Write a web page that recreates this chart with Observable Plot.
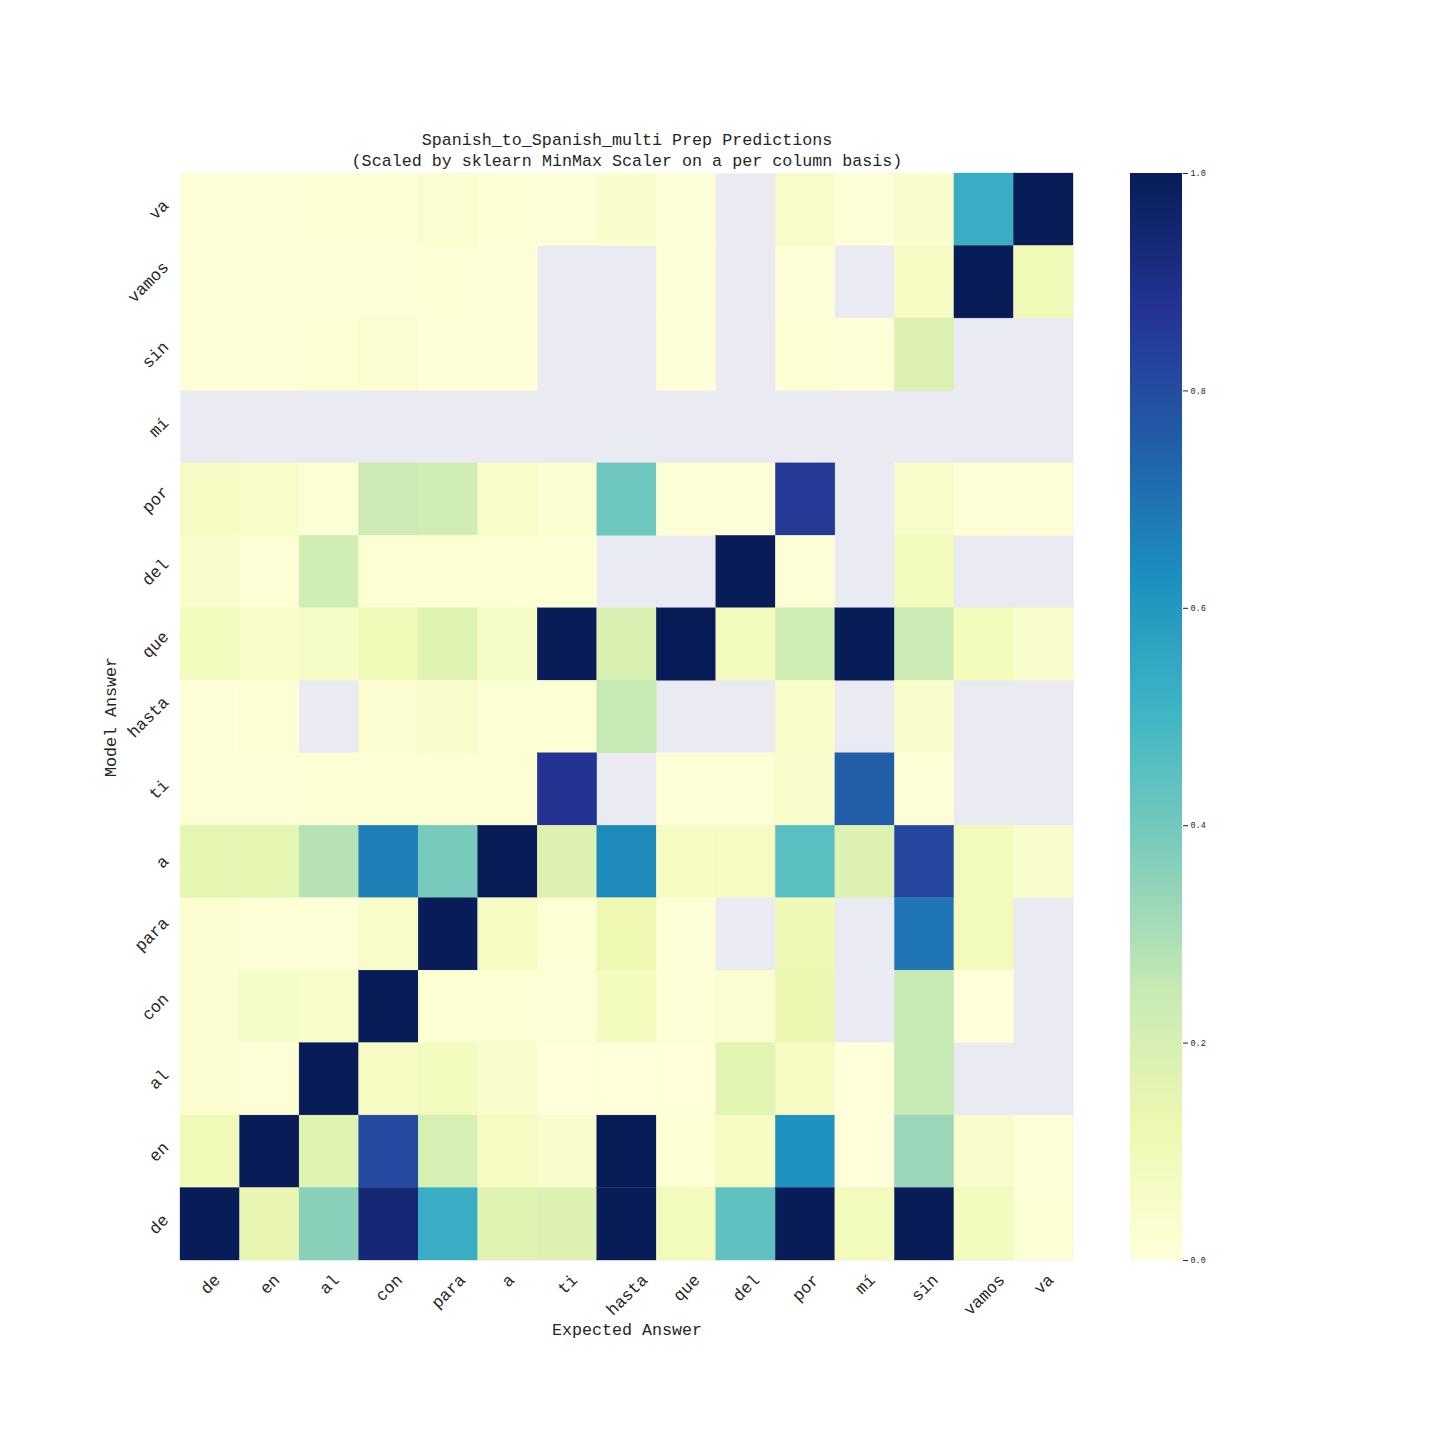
<!DOCTYPE html>
<html><head><meta charset="utf-8">
<script src="https://cdn.jsdelivr.net/npm/d3@7"></script>
<script src="https://cdn.jsdelivr.net/npm/@observablehq/plot@0.6"></script>
<style>
body{margin:0;background:#fff;}
#wrap{position:relative;width:1440px;height:1440px;}
#wrap svg{position:absolute;top:0;}
</style></head><body><div id="wrap"></div>
<script>
// Categories
const expected = ["de","en","al","con","para","a","ti","hasta","que","del","por","mí","sin","vamos","va"];
const model = ["va","vamos","sin","mí","por","del","que","hasta","ti","a","para","con","al","en","de"];
const N = null;
// Values per model-answer row (columns follow `expected`)
const row_va    = [0.01,0.01,0.02,0.02,0.03,0.02,0.01,0.04,0.01,N,0.05,0.01,0.04,0.53,1];
const row_vamos = [0.01,0.01,0.01,0.01,0.02,0.01,N,N,0.01,N,0.01,N,0.07,1,0.10];
const row_sin   = [0.01,0.01,0.02,0.03,0.01,0.01,N,N,0.01,N,0.02,0.01,0.18,N,N];
const row_mi    = [N,N,N,N,N,N,N,N,N,N,N,N,N,N,N];
const row_por   = [0.07,0.05,0.02,0.23,0.22,0.05,0.03,0.41,0.01,0.01,0.86,N,0.05,0.01,0.01];
const row_del   = [0.04,0.01,0.22,0.02,0.02,0.02,0.02,N,N,1,0.01,N,0.09,N,N];
const row_que   = [0.08,0.05,0.06,0.10,0.17,0.06,1,0.19,1,0.08,0.22,1,0.23,0.09,0.04];
const row_hasta = [0.01,0.02,N,0.03,0.04,0.02,0.02,0.25,N,N,0.05,N,0.04,N,N];
const row_ti    = [0.01,0.01,0.02,0.02,0.02,0.02,0.88,N,0.01,0.01,0.04,0.75,0.01,N,N];
const row_a     = [0.15,0.15,0.28,0.67,0.39,1,0.18,0.64,0.07,0.07,0.45,0.18,0.82,0.09,0.04];
const row_para  = [0.03,0.01,0.01,0.05,1,0.07,0.02,0.12,0.01,N,0.11,N,0.69,0.09,N];
const row_con   = [0.03,0.06,0.05,1,0.02,0.02,0.01,0.08,0.01,0.03,0.13,N,0.25,0.0,N];
const row_al    = [0.03,0.01,1,0.07,0.08,0.04,0.0,0.0,0.0,0.16,0.07,0.0,0.25,N,N];
const row_en    = [0.10,1,0.17,0.81,0.20,0.07,0.04,1,0.02,0.07,0.62,0.0,0.33,0.04,0.01];
const row_de    = [1,0.14,0.36,0.94,0.53,0.17,0.18,1,0.09,0.44,1,0.09,1,0.08,0.02];
const rows = [row_va,row_vamos,row_sin,row_mi,row_por,row_del,row_que,row_hasta,row_ti,row_a,row_para,row_con,row_al,row_en,row_de];
const cbTicks = [0,0.2,0.4,0.6,0.8,1.0];
const titleLines = ["Spanish_to_Spanish_multi Prep Predictions","(Scaled by sklearn MinMax Scaler on a per column basis)"];

const cells = [];
model.forEach((m,i)=>expected.forEach((e,j)=>{ const v = rows[i][j]; if (v !== null) cells.push({model:m, expected:e, value:v}); }));

const ylgnbu = ["#ffffd9","#edf8b1","#c7e9b4","#7fcdbb","#41b6c4","#1d91c0","#225ea8","#253494","#081d58"];
const colorOpts = {type:"linear", domain: ylgnbu.map((_,i)=>i/8), range: ylgnbu, clamp:true};
const FONT = "Liberation Mono, DejaVu Sans Mono, monospace";
const TXT = "#262626";

const plot = Plot.plot({
  width:1440, height:1440,
  marginLeft:180, marginRight:367, marginTop:173, marginBottom:180,
  style:{fontFamily:FONT, background:"transparent", color:TXT},
  x:{domain:expected, padding:0, round:false, axis:null},
  y:{domain:model, padding:0, round:false, axis:null},
  color: colorOpts,
  marks:[
    Plot.frame({fill:"#eaeaf2", stroke:null}),
    Plot.cell(cells, {x:"expected", y:"model", fill:"value", stroke:"value", strokeWidth:0.3}),
    Plot.text(expected, {x:d=>d, frameAnchor:"bottom", rotate:-45, textAnchor:"middle", lineAnchor:"middle", fontSize:16.7, fill:TXT, ariaDescription:"xtick"}),
    Plot.text(model, {y:d=>d, frameAnchor:"left", rotate:-45, textAnchor:"middle", lineAnchor:"middle", fontSize:16.7, fill:TXT, ariaDescription:"ytick"}),
    Plot.text(["Expected Answer"], {frameAnchor:"bottom", dy:69, textAnchor:"middle", lineAnchor:"middle", fontSize:16.7, fill:TXT}),
    Plot.text(["Model Answer"], {frameAnchor:"left", dx:-70, rotate:-90, textAnchor:"middle", lineAnchor:"middle", fontSize:16.7, fill:TXT}),
    Plot.text([titleLines[0]], {frameAnchor:"top", dy:-34, textAnchor:"middle", lineAnchor:"middle", fontSize:16.7, fill:TXT}),
    Plot.text([titleLines[1]], {frameAnchor:"top", dy:-13, textAnchor:"middle", lineAnchor:"middle", fontSize:16.7, fill:TXT})
  ]
});
const wrap = document.getElementById("wrap");
wrap.appendChild(plot);
plot.style.left = "0px";

// position rotated tick labels like matplotlib (bbox aligned)
const h = 13;
function shiftLabels(sel, horizontal){
  sel.each(function(){
    const L = this.getComputedTextLength();
    const s = 10 + 0.354*(L+h);
    const t = this.getAttribute("transform") || "";
    const pre = horizontal ? `translate(${-s},0) ` : `translate(0,${s + 2}) `;
    this.setAttribute("transform", pre + t);
  });
}
let gx = d3.select(plot).select('g[aria-description="xtick"]');
let gy = d3.select(plot).select('g[aria-description="ytick"]');
if (gx.empty() || gy.empty()) {
  const groups = d3.select(plot).selectAll('g[aria-label="text"]').nodes();
  gx = d3.select(groups[0]); gy = d3.select(groups[1]);
}
shiftLabels(gx.selectAll("text"), false);
shiftLabels(gy.selectAll("text"), true);

// colorbar
const step = 0.0025;
const steps = d3.range(0, 1, step);
const cbar = Plot.plot({
  width:110, height:1440,
  marginTop:173, marginBottom:180, marginLeft:0, marginRight:58,
  style:{fontFamily:FONT, background:"transparent", color:TXT},
  x:{domain:[0,1], axis:null},
  y:{domain:[0,1], axis:null},
  color: colorOpts,
  marks:[
    Plot.rect(steps, {x1:0, x2:1, y1:d=>d, y2:d=>Math.min(1,d+step*1.5), fill:d=>d+step/2}),
    Plot.axisY({anchor:"right", ticks:cbTicks, tickFormat:".1f", tickSize:5, tickPadding:3, fontSize:8.5, label:null, stroke:TXT})
  ]
});
wrap.appendChild(cbar);
cbar.style.left = "1130px";
</script></body></html>
